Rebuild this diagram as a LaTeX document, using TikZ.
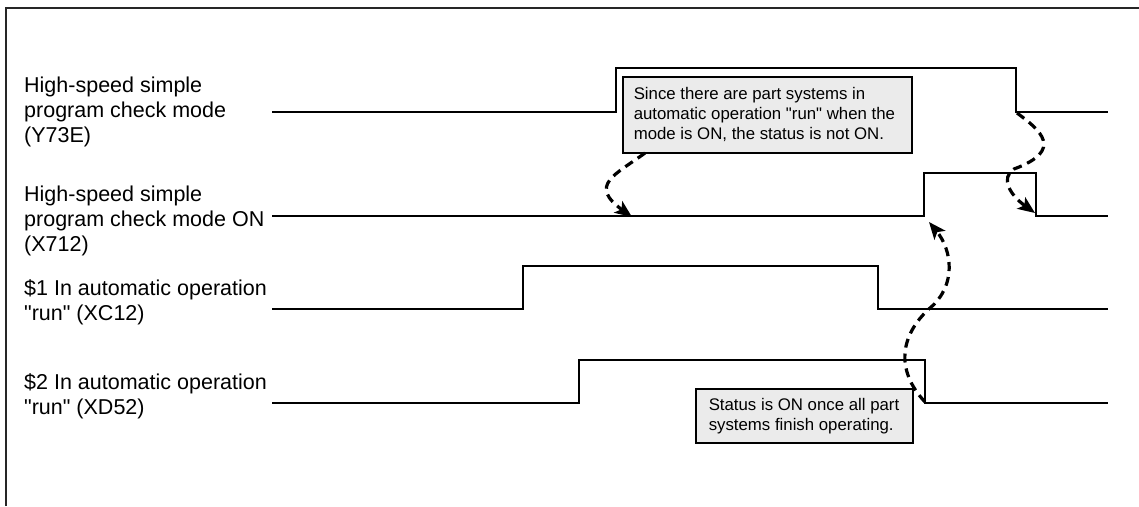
\documentclass[tikz,border=0pt]{standalone}
\usepackage{fontspec}
\setmainfont{Liberation Sans}[Ligatures=TeXOff]
\usetikzlibrary{arrows.meta}
\definecolor{boxgray}{HTML}{EBEBEB}
\tikzset{
  sig/.style={line width=1.5pt, line join=miter},
  lbl/.style={anchor=west, align=left, inner sep=0pt, font=\fontsize{21.5}{25}\selectfont},
  note/.style={draw, line width=1.5pt, fill=boxgray, anchor=north west, inner sep=0pt, font=\fontsize{16.8}{20}\selectfont},
  dasharrow/.style={line width=3.2pt, dash pattern=on 9pt off 6pt, -{Stealth[length=17pt,width=14pt,inset=4pt]}}
}
\begin{document}
\begin{tikzpicture}[x=1pt,y=-1pt]
\useasboundingbox (0,0) rectangle (1139,506);
% frame
\draw[line width=2pt, black!85] (6,506) -- (6,8) -- (1139,8);
% labels
\node[lbl] (l1) at (24,112) {High-speed simple\\program check mode\\(Y73E)};
\node[lbl] (l2) at (24,221) {High-speed simple\\program check mode ON\\(X712)};
\node[lbl] (l3) at (24,302) {\$1 In automatic operation\\"run" (XC12)};
\node[lbl] (l4) at (24,396) {\$2 In automatic operation\\"run" (XD52)};
% signals
\draw[sig] (272,112) -- (616,112) -- (616,68) -- (1016,68) -- (1016,112) -- (1108,112);
\draw[sig] (272,216) -- (924,216) -- (924,173) -- (1036,173) -- (1036,216) -- (1108,216);
\draw[sig] (272,309) -- (523,309) -- (523,266) -- (878,266) -- (878,309) -- (1108,309);
\draw[sig] (272,403) -- (579,403) -- (579,360) -- (925,360) -- (925,403) -- (1108,403);
% notes
\node[note] (n1) at (622,76)
  {\hspace*{11pt}\parbox[c][76pt][c]{278pt}{Since there are part systems in\\automatic operation "run" when the\\mode is ON, the status is not ON.}};
\node[note] (n2) at (695,388)
  {\hspace*{13pt}\parbox[c][54pt][c]{204pt}{Status is ON once all part\\systems finish operating.}};
% connector points
\coordinate (a1s) at (645,153);
\coordinate (a1e) at (632,217);
\coordinate (a2s) at (1017,113);
\coordinate (a2m) at (1014,169);
\coordinate (a2e) at (1035,213);
\coordinate (a3s) at (925,402);
\coordinate (a3m) at (930,308);
\coordinate (a3e) at (929,222);
\draw[dasharrow] (a1s) .. controls (615,175) and (588,185) .. (a1e);
\draw[dasharrow] (a2s) .. controls (1040,130) and (1065,150) .. (a2m) .. controls (1000,178) and (1010,195) .. (a2e);
\draw[dasharrow] (a3s) .. controls (895,370) and (900,335) .. (a3m) .. controls (957,285) and (952,250) .. (a3e);
\end{tikzpicture}
\end{document}
